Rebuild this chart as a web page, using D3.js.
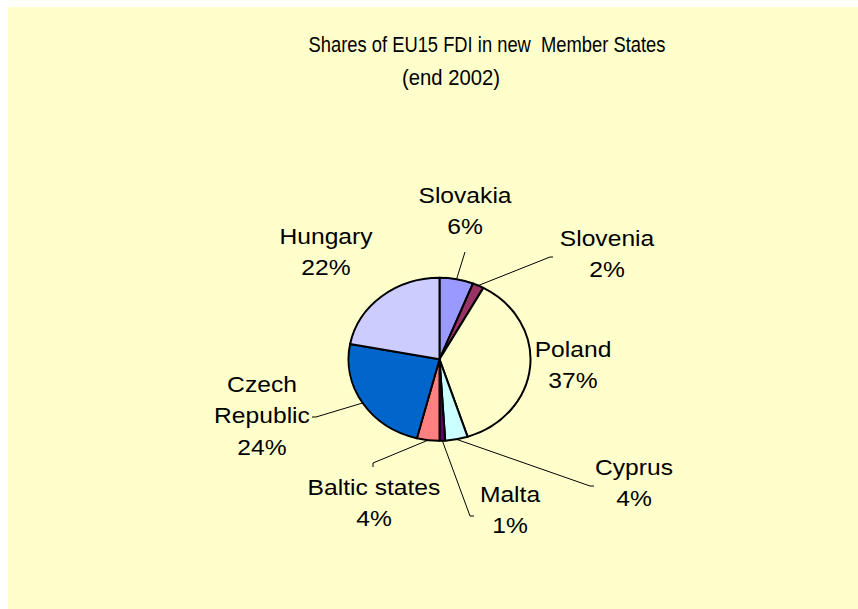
<!DOCTYPE html>
<html>
<head>
<meta charset="utf-8">
<script src="https://cdn.jsdelivr.net/npm/d3@7"></script>
<style>
  html, body { margin: 0; padding: 0; background: #ffffff; }
  svg { display: block; }
  text { font-family: Arial, "Liberation Sans", sans-serif; fill: #000; }
</style>
</head>
<body>
<div id="chart"></div>
<script>
// Shares of EU15 foreign direct investment in the new Member States, end 2002 (%)
const categories = ["Slovakia", "Slovenia", "Poland", "Cyprus", "Malta", "Baltic states", "Czech Republic", "Hungary"];
const shares = [6, 2, 37, 4, 1, 4, 24, 22];
const titleLines = ["Shares of EU15 FDI in new  Member States", "(end 2002)"];

// Slice fills, in category order
const sliceColors = ["#9999FF", "#993366", "#FFFFCC", "#CCFFFF", "#660066", "#FF8080", "#0066CC", "#CCCCFF"];

// Label placement: name lines, anchor (centre x, first baseline), leader line bend points
const labelLayout = {
  "Slovakia":       { lines: ["Slovakia"],          x: 465, y: 203, leader: [[465, 252]] },
  "Slovenia":       { lines: ["Slovenia"],          x: 607, y: 246, leader: [[550, 257], [553, 257]] },
  "Poland":         { lines: ["Poland"],            x: 573, y: 357, leader: null },
  "Cyprus":         { lines: ["Cyprus"],            x: 634, y: 475, leader: [[590, 486], [594, 486]] },
  "Malta":          { lines: ["Malta"],             x: 510, y: 502, leader: [[470, 516], [474, 516]] },
  "Baltic states":  { lines: ["Baltic states"],     x: 374, y: 495, leader: [[373, 463], [373, 467]] },
  "Czech Republic": { lines: ["Czech", "Republic"], x: 262, y: 392, leader: [[316, 417], [312, 417]] },
  "Hungary":        { lines: ["Hungary"],           x: 326, y: 244, leader: null }
};

const W = 858, H = 609;
const cx = 439.5, cy = 359.3, rx = 91, ry = 81.5;
const lineGap = 31.5;
const labelFont = 22, labelStretch = 1.12;

const svg = d3.select("#chart").append("svg")
  .attr("width", W).attr("height", H);

// Chart area
svg.append("rect")
  .attr("x", 8).attr("y", 7)
  .attr("width", W - 8).attr("height", H - 7)
  .attr("fill", "#FFFFCC");

// Title, set in a condensed width
const title = svg.append("text")
  .attr("text-anchor", "middle")
  .attr("font-size", 22);
title.append("tspan").attr("x", 487).attr("y", 52)
  .attr("textLength", 357).attr("lengthAdjust", "spacingAndGlyphs")
  .style("white-space", "pre")
  .text(titleLines[0]);
title.append("tspan").attr("x", 451).attr("y", 85)
  .attr("textLength", 98).attr("lengthAdjust", "spacingAndGlyphs")
  .text(titleLines[1]);

// Pie
const data = categories.map((c, i) => ({ name: c, value: shares[i], color: sliceColors[i] }));
const pie = d3.pie().sort(null).value(d => d.value);
const arcs = pie(data);
const arc = d3.arc().innerRadius(0).outerRadius(rx);

const pieG = svg.append("g")
  .attr("transform", `translate(${cx},${cy}) scale(1,${ry / rx})`);

pieG.selectAll("path")
  .data(arcs)
  .join("path")
  .attr("d", arc)
  .attr("fill", d => d.data.color)
  .attr("stroke", "#000")
  .attr("stroke-width", 2)
  .attr("stroke-linejoin", "round")
  .attr("vector-effect", "non-scaling-stroke");

// Leader lines from slice edge midpoints
const edgePoint = d => {
  const a = (d.startAngle + d.endAngle) / 2;
  return [cx + rx * Math.sin(a), cy - ry * Math.cos(a)];
};

svg.append("g").selectAll("path")
  .data(arcs.filter(d => labelLayout[d.data.name].leader))
  .join("path")
  .attr("d", d => d3.line()([edgePoint(d), ...labelLayout[d.data.name].leader]))
  .attr("fill", "none")
  .attr("stroke", "#000")
  .attr("stroke-width", 1);

// Data labels: category name and percentage
const labels = svg.append("g").selectAll("text")
  .data(arcs)
  .join("text")
  .attr("text-anchor", "middle")
  .attr("font-size", labelFont)
  .attr("transform", d => {
    const L = labelLayout[d.data.name];
    return `translate(${L.x},${L.y}) scale(${labelStretch},1)`;
  });

labels.each(function(d) {
  const L = labelLayout[d.data.name];
  const t = d3.select(this);
  const lines = [...L.lines, `${d.data.value}%`];
  lines.forEach((s, i) => {
    t.append("tspan").attr("x", 0).attr("y", i * lineGap).text(s);
  });
});
</script>
</body>
</html>
